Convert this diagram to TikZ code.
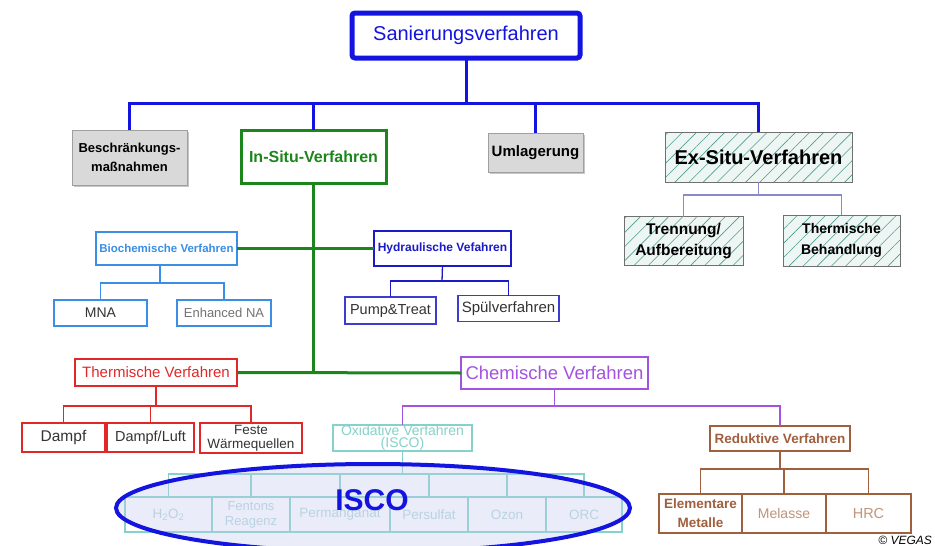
\documentclass[tikz,border=0pt]{standalone}
\usepackage{fontspec}
\setmainfont{Liberation Sans}
\usetikzlibrary{patterns.meta,shadows}
\definecolor{topblue}{HTML}{1414E0}
\definecolor{insgreen}{HTML}{1C861C}
\definecolor{boxgray}{HTML}{D9D9D9}
\definecolor{hatchfill}{HTML}{EEF6F4}
\definecolor{hatchline}{HTML}{4E9C90}
\definecolor{hatchborder}{HTML}{707070}
\definecolor{exline}{HTML}{8A8AC8}
\definecolor{bioblue}{HTML}{3A8EE6}
\definecolor{hydblue}{HTML}{1A1AC8}
\definecolor{thred}{HTML}{E02828}
\definecolor{chempurple}{HTML}{A452E0}
\definecolor{iscoteal}{HTML}{86D2CA}
\definecolor{iscotext}{HTML}{B4D6DC}
\definecolor{redbrown}{HTML}{A0603E}
\definecolor{lightbrown}{HTML}{C09478}
\definecolor{ellfill}{HTML}{C4CCEE}
\definecolor{txtgray}{HTML}{333333}
\begin{document}
\begin{tikzpicture}[x=1pt,y=-1pt,
  every node/.style={inner sep=0pt, outer sep=0pt, align=center},
  topbox/.style={draw=topblue, line width=5pt, rounded corners=3pt, fill=white, text=topblue, font=\fontsize{20}{24}\selectfont},
  graybox/.style={draw=gray!75, line width=1pt, fill=boxgray, drop shadow={shadow xshift=2pt, shadow yshift=-2pt, fill=gray!45, opacity=1}, font=\bfseries\fontsize{13}{19}\selectfont},
  insitubox/.style={draw=insgreen, line width=3pt, fill=white, text=insgreen, font=\bfseries\fontsize{16}{19}\selectfont},
  hatchbox/.style={draw=hatchborder, line width=1pt, preaction={fill=hatchfill}, pattern={Lines[angle=45,distance=10pt,line width=0.6pt]}, pattern color=hatchline},
  biobox/.style={draw=bioblue, line width=2.5pt, fill=white, text=bioblue, font=\bfseries\fontsize{11.5}{13}\selectfont},
  biosub/.style={draw=bioblue, line width=1.5pt, fill=white, text=txtgray},
  hydbox/.style={draw=hydblue, line width=2.5pt, fill=white, text=hydblue, font=\bfseries\fontsize{12}{14}\selectfont},
  hydsub/.style={draw=hydblue!85, line width=1.5pt, fill=white, text=txtgray, font=\fontsize{14.5}{17}\selectfont},
  redbox/.style={draw=thred, line width=2.5pt, fill=white, text=thred, font=\fontsize{15}{18}\selectfont},
  redsub/.style={draw=thred, line width=2pt, fill=white, text=txtgray},
  chembox/.style={draw=chempurple, line width=2.5pt, fill=white, text=chempurple, font=\fontsize{18.5}{22}\selectfont},
  oxbox/.style={draw=iscoteal, line width=2pt, fill=white, text=iscoteal, font=\fontsize{14}{11.5}\selectfont},
  iscosub/.style={draw=iscoteal, line width=1.2pt, text=iscotext, font=\fontsize{13.5}{14}\selectfont},
  redukbox/.style={draw=redbrown, line width=2.5pt, fill=white, text=redbrown, font=\bfseries\fontsize{13.5}{16}\selectfont},
  reduksub/.style={draw=redbrown, line width=1.5pt, fill=white},
  bluecon/.style={draw=topblue, line width=3pt},
  greencon/.style={draw=insgreen, line width=3pt},
  thincon/.style={line width=1.3pt}
]
\useasboundingbox (0,0) rectangle (935,546);
\fill[white] (0,0) rectangle (935,546);

% ---------- top level
\node[topbox, minimum width=228, minimum height=45] (top) at (466,35.5) {Sanierungsverfahren};
\node[graybox, minimum width=115, minimum height=55] (besch) at (129.5,157.5) {Beschränkungs-\\maßnahmen};
\node[insitubox, minimum width=145, minimum height=53] (insitu) at (313.5,156.5) {In-Situ-Verfahren};
\node[graybox, minimum width=95, minimum height=39, font=\bfseries\fontsize{15}{18}\selectfont] (umlag) at (535.5,152.5) {Umlagerung};
\node[hatchbox, minimum width=187, minimum height=50, font=\bfseries\fontsize{20}{24}\selectfont] (exsitu) at (758.5,157) {Ex-Situ-Verfahren};

\coordinate (j1) at (466,103);
\draw[bluecon] (top.south) -- (top.south |- j1);
\draw[bluecon] (besch.north) |- (j1) -| (exsitu.north);
\draw[bluecon] (insitu.north) -- (insitu.north |- j1);
\draw[bluecon] (umlag.north) -- (umlag.north |- j1);

% ---------- Ex-situ subtree
\node[hatchbox, minimum width=119, minimum height=49, font=\bfseries\fontsize{15.5}{21}\selectfont] (trenn) at (683.5,241) {Trennung/\\Aufbereitung};
\node[hatchbox, minimum width=117, minimum height=51, font=\bfseries\fontsize{14}{21}\selectfont] (thbeh) at (841.5,240.5) {Thermische\\Behandlung};
\coordinate (j2) at (758,195);
\draw[thincon, exline] (exsitu.south) -- (exsitu.south |- j2);
\draw[thincon, exline] (trenn.north) |- (j2) -| (thbeh.north);

% ---------- Biochemische / Hydraulische
\node[biobox, minimum width=141, minimum height=33] (bio) at (166.5,248.5) {Biochemische Verfahren};
\node[hydbox, minimum width=137, minimum height=35] (hyd) at (442.5,248.5) {Hydraulische Vefahren};
\node[biosub, minimum width=93, minimum height=26, font=\fontsize{14}{17}\selectfont] (mna) at (100.5,313) {MNA};
\node[biosub, minimum width=94, minimum height=26, font=\fontsize{13}{16}\selectfont, text=gray!90!black] (enh) at (224,313) {Enhanced NA};
\node[hydsub, minimum width=91, minimum height=27] (pump) at (390.5,310.5) {Pump\&Treat};
\node[hydsub, minimum width=101, minimum height=26, font=\fontsize{15}{18}\selectfont] (spuel) at (508.5,308.5) {Spülverfahren};
\coordinate (jb) at (160,283);
\draw[thincon, bioblue] (bio.south -| jb) -- (jb);
\draw[thincon, bioblue] (mna.north) |- (jb) -| (enh.north);
\coordinate (jh) at (442,281);
\draw[thincon, hydblue] (hyd.south) -- (jh);
\draw[thincon, hydblue] (pump.north) |- (jh) -| (spuel.north);

% ---------- Thermische / Chemische
\node[redbox, minimum width=162, minimum height=27] (therm) at (156,372.5) {Thermische Verfahren};
\node[chembox, minimum width=187, minimum height=32] (chem) at (554.5,373) {Chemische Verfahren};

% green connectors
\draw[greencon] (insitu.south) -- (insitu.south |- therm.east);
\draw[greencon] (bio.east) -- (hyd.west);
\draw[greencon] (therm.east) -- (chem.west);

% thermische subtree
\node[redsub, minimum width=83, minimum height=29, font=\fontsize{15.5}{18}\selectfont] (dampf) at (63.5,437.5) {Dampf};
\node[redsub, minimum width=87, minimum height=29, font=\fontsize{14.5}{18}\selectfont] (dluft) at (150.5,437.5) {Dampf/Luft};
\node[redsub, minimum width=102, minimum height=30, font=\fontsize{13.5}{14}\selectfont] (feste) at (251,438) {Feste\\Wärmequellen};
\coordinate (jt) at (156,406);
\draw[thincon, thred] (therm.south) -- (jt);
\draw[thincon, thred] (dampf.north) |- (jt) -| (feste.north);
\draw[thincon, thred] (dluft.north) -- (dluft.north |- jt);

% chemische subtree
\node[oxbox, minimum width=139, minimum height=26] (oxid) at (402.5,438) {Oxidative Verfahren\\(ISCO)};
\node[redukbox, minimum width=140, minimum height=25] (reduk) at (780,438.5) {Reduktive Verfahren};
\coordinate (jc) at (556,406);
\draw[thincon, chempurple] (chem.south) -- (chem.south |- jc);
\draw[thincon, chempurple] (oxid.north) |- (jc) -| (reduk.north);

% reduktive subtree
\node[reduksub, minimum width=83, minimum height=39, text=redbrown, font=\bfseries\fontsize{13.5}{19}\selectfont] (elem) at (700.5,513.5) {Elementare\\Metalle};
\node[reduksub, minimum width=84, minimum height=39, text=lightbrown, font=\fontsize{14}{17}\selectfont] (mel) at (784,513.5) {Melasse};
\node[reduksub, minimum width=85, minimum height=39, text=lightbrown, font=\fontsize{14.5}{17}\selectfont] (hrc) at (868.5,513.5) {HRC};
\coordinate (jr) at (780,469);
\draw[thincon, redbrown] (reduk.south) -- (jr);
\draw[thincon, redbrown] (elem.north) |- (jr) -| (hrc.north);
\draw[thincon, redbrown] (mel.north) -- (mel.north |- jr);

% oxidative subtree (ISCO)
\node[iscosub, minimum width=87, minimum height=35] (h2o2) at (168.5,514.5) {H\textsubscript{2}O\textsubscript{2}};
\node[iscosub, minimum width=78, minimum height=35, font=\fontsize{13}{15}\selectfont] (fent) at (251,514.5) {Fentons\\Reagenz};
\node[iscosub, minimum width=100, minimum height=35] (perm) at (340,514.5) {Permanganat};
\node[iscosub, minimum width=78, minimum height=35] (pers) at (429,514.5) {Persulfat};
\node[iscosub, minimum width=78, minimum height=35] (ozon) at (507,514.5) {Ozon};
\node[iscosub, minimum width=76, minimum height=35] (orc) at (584,514.5) {ORC};
\coordinate (jo) at (402.5,474);
\draw[thincon, iscoteal] (oxid.south) -- (jo);
\draw[thincon, iscoteal] (h2o2.north) |- (jo) -| (orc.north);
\draw[thincon, iscoteal] (fent.north) -- (fent.north |- jo);
\draw[thincon, iscoteal] (perm.north) -- (perm.north |- jo);
\draw[thincon, iscoteal] (pers.north) -- (pers.north |- jo);
\draw[thincon, iscoteal] (ozon.north) -- (ozon.north |- jo);

% ISCO ellipse
\draw[draw=topblue, line width=4pt, fill=ellfill, fill opacity=0.35] (373,508) ellipse [x radius=257, y radius=44];
\node[text=topblue, font=\bfseries\fontsize{30}{34}\selectfont] (isco) at (372,500) {ISCO};

% copyright
\node[anchor=east, font=\itshape\fontsize{12}{14}\selectfont] (copy) at (932,540) {© VEGAS};
\end{tikzpicture}
\end{document}
